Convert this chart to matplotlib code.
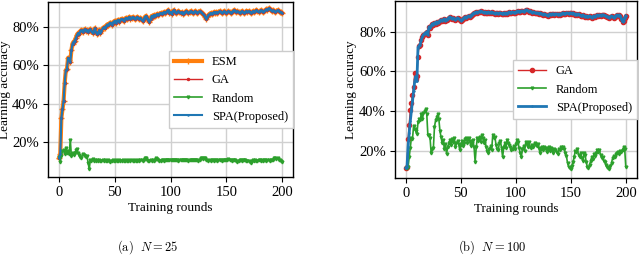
import matplotlib
matplotlib.use("Agg")
import matplotlib.pyplot as plt
from matplotlib.ticker import PercentFormatter
import numpy as np

plt.rcParams["font.family"] = ["Liberation Serif", "DejaVu Serif"]
plt.rcParams["mathtext.fontset"] = "cm"

# learning accuracy (%) per training round
esm_25 = [
    11.5, 13.5, 32.5, 37.0, 41.5, 51.0, 57.5, 58.0, 64.0, 63.0,
    62.0, 68.0, 71.5, 72.5, 73.0, 74.5, 76.0, 77.0, 76.5, 78.0,
    78.5, 77.5, 78.5, 79.0, 78.0, 78.5, 77.5, 78.5, 79.0, 78.0,
    77.0, 78.0, 79.5, 77.5, 76.5, 77.0, 78.5, 77.0, 78.0, 79.5,
    80.0, 79.5, 80.5, 81.5, 81.0, 82.0, 82.5, 81.5, 82.5, 83.0,
    83.5, 82.5, 83.5, 84.0, 83.0, 84.0, 84.5, 84.0, 83.5, 84.5,
    85.0, 84.5, 85.0, 85.5, 84.5, 85.0, 85.5, 85.0, 84.5, 85.0,
    85.5, 85.0, 84.5, 85.0, 84.0, 83.5, 84.5, 85.5, 86.0, 85.0,
    84.0, 83.0, 84.5, 86.0, 85.5, 86.5, 86.0, 86.5, 87.0, 86.5,
    87.0, 87.5, 87.0, 87.5, 88.0, 87.5, 88.0, 88.5, 89.0, 87.5,
    88.0, 87.0, 88.5, 89.0, 88.0, 87.5, 88.0, 88.5, 88.0, 87.5,
    88.0, 87.0, 87.5, 88.0, 88.5, 88.0, 87.5, 88.0, 88.5, 88.0,
    87.5, 88.0, 88.5, 88.0, 87.5, 88.0, 88.5, 88.0, 87.5, 87.0,
    86.5, 85.5, 84.5, 85.5, 86.5, 87.0, 87.5, 87.0, 87.5, 88.0,
    87.5, 88.0, 87.5, 88.0, 88.5, 88.0, 87.5, 88.0, 88.5, 88.0,
    87.5, 88.0, 88.5, 88.0, 87.5, 88.0, 88.5, 89.0, 88.5, 88.0,
    88.5, 88.0, 87.5, 88.0, 88.5, 88.0, 87.5, 88.0, 88.5, 88.0,
    88.5, 88.0, 87.5, 88.0, 88.5, 88.0, 88.5, 89.0, 88.5, 88.0,
    88.5, 89.0, 88.5, 88.0, 88.5, 89.0, 89.5, 89.0, 90.0, 89.5,
    89.0, 88.5, 89.0, 88.5, 88.0, 88.5, 89.0, 88.5, 88.0, 88.0,
    87.5,
]
ga_25 = esm_25    # the three curves overlap in panel (a)
spa_25 = esm_25

rand_25 = [
    12.0, 9.5, 12.5, 15.0, 15.5, 13.5, 16.5, 14.0, 15.0, 13.5,
    21.0, 12.5, 14.0, 13.0, 14.0, 15.5, 16.0, 14.0, 13.0, 12.0,
    11.5, 13.5, 13.0, 12.5, 12.0, 12.5, 9.0, 5.5, 10.5, 10.0,
    11.0, 10.0, 10.5, 10.0, 10.5, 10.0, 10.5, 10.0, 10.0, 10.5,
    10.0, 10.5, 10.0, 10.0, 10.5, 10.0, 9.5, 10.0, 10.5, 10.0,
    10.0, 10.5, 10.0, 10.0, 10.5, 10.0, 10.0, 10.5, 10.0, 10.0,
    10.5, 10.0, 10.0, 10.5, 10.0, 10.5, 10.0, 10.0, 10.5, 10.0,
    10.0, 10.5, 10.0, 10.5, 10.5, 10.0, 10.5, 11.5, 11.5, 10.5,
    10.0, 10.0, 10.5, 10.0, 10.5, 10.0, 10.5, 11.5, 11.0, 10.5,
    10.0, 10.0, 10.5, 10.5, 10.0, 10.5, 10.5, 10.5, 10.5, 10.5,
    10.5, 10.5, 10.5, 10.5, 10.5, 10.5, 10.5, 10.0, 10.5, 10.5,
    10.5, 10.5, 10.5, 10.5, 10.5, 10.5, 10.0, 10.5, 10.5, 10.5,
    10.5, 10.5, 10.5, 10.5, 10.5, 10.0, 10.5, 11.5, 11.5, 11.0,
    11.5, 11.5, 10.5, 10.5, 10.0, 10.5, 10.0, 10.5, 10.5, 10.0,
    10.5, 10.5, 10.0, 10.5, 10.5, 10.5, 10.0, 10.5, 10.5, 10.5,
    10.5, 10.5, 11.0, 10.5, 10.5, 10.0, 10.5, 10.5, 10.5, 10.0,
    9.5, 10.0, 10.5, 10.5, 10.0, 10.5, 10.5, 10.5, 10.0, 10.0,
    10.0, 9.5, 9.0, 10.0, 10.5, 10.0, 10.5, 10.0, 10.0, 10.5,
    10.5, 10.0, 10.5, 10.0, 10.5, 10.5, 10.0, 10.5, 10.5, 10.0,
    10.5, 10.5, 10.5, 11.5, 11.5, 11.0, 11.5, 10.5, 10.5, 10.0,
    9.5,
]

ga_100 = [
    11.5, 12.0, 26.0, 33.0, 40.5, 44.0, 48.0, 52.0, 59.0, 56.0,
    57.5, 67.5, 73.0, 73.5, 76.0, 77.5, 78.5, 79.0, 79.5, 80.0,
    78.5, 82.5, 82.0, 83.0, 84.0, 83.5, 84.5, 84.0, 85.0, 84.5,
    85.0, 85.5, 86.0, 85.5, 86.0, 86.5, 85.5, 86.0, 86.5, 87.0,
    87.5, 87.0, 86.5, 87.0, 86.5, 86.0, 86.5, 87.0, 86.5, 86.0,
    85.5, 86.0, 86.5, 87.0, 87.5, 87.0, 87.5, 88.0, 87.5, 88.0,
    88.5, 89.0, 89.5, 89.5, 90.0, 89.5, 90.0, 90.0, 90.5, 90.0,
    90.0, 89.5, 90.0, 89.5, 89.5, 90.0, 89.5, 89.5, 90.0, 89.5,
    89.5, 89.0, 89.5, 89.5, 89.0, 89.5, 89.5, 89.0, 89.0, 89.5,
    89.0, 89.5, 89.0, 89.5, 90.0, 89.5, 89.5, 90.0, 89.5, 89.5,
    90.0, 90.0, 90.5, 90.0, 90.0, 90.5, 90.5, 90.0, 90.5, 91.0,
    91.0, 90.5, 90.0, 90.5, 90.0, 89.5, 90.0, 89.5, 89.5, 89.5,
    89.5, 89.0, 89.5, 89.0, 89.0, 88.5, 89.0, 88.5, 88.5, 88.0,
    88.5, 89.0, 88.5, 89.0, 89.0, 88.5, 89.0, 89.0, 88.5, 89.0,
    88.5, 89.0, 89.0, 89.5, 89.0, 89.0, 89.5, 89.5, 89.0, 89.5,
    89.5, 89.0, 89.5, 89.0, 88.5, 89.0, 88.5, 89.0, 88.5, 88.0,
    88.0, 88.5, 88.0, 87.5, 88.0, 87.5, 87.5, 88.0, 87.5, 87.0,
    87.5, 88.0, 87.5, 88.0, 88.5, 88.0, 88.5, 88.0, 88.5, 88.5,
    88.5, 88.0, 88.0, 87.5, 87.5, 87.0, 87.5, 88.0, 87.5, 87.0,
    87.5, 88.0, 88.5, 88.0, 88.5, 88.0, 86.5, 85.0, 85.5, 87.0,
    88.0,
]
spa_100_start = [11.5, 12.0, 22.0, 29.0, 35.0, 40.0, 45.0, 50.0, 55.0, 57.5, 55.0, 72.0]
spa_100 = spa_100_start + ga_100[len(spa_100_start):]

rand_100 = [
    11.5, 11.5, 12.0, 17.0, 21.5, 26.5, 26.0, 32.5, 31.0, 30.0,
    28.5, 34.5, 36.0, 35.5, 38.5, 36.0, 39.0, 40.0, 41.0, 38.5,
    28.0, 28.0, 26.5, 19.0, 21.0, 21.5, 32.0, 35.5, 37.0, 38.5,
    36.0, 30.0, 27.0, 24.0, 25.5, 21.0, 23.5, 18.5, 22.0, 24.0,
    25.5, 23.0, 26.0, 24.5, 26.5, 22.0, 24.0, 25.0, 23.5, 20.5,
    23.0, 25.0, 22.5, 24.0, 26.0, 26.5, 24.0, 26.5, 25.0, 22.5,
    24.0, 25.5, 22.0, 14.5, 22.0, 26.5, 25.0, 27.0, 24.5, 28.0,
    26.5, 24.0, 25.5, 22.0, 20.0, 19.0, 21.0, 22.5, 20.5, 28.0,
    26.5, 27.0, 23.0, 21.0, 20.5, 24.0, 25.0, 21.5, 17.0, 22.0,
    24.0, 21.5, 25.5, 24.0, 23.0, 22.0, 20.5, 21.0, 22.5, 21.0,
    23.5, 25.5, 24.5, 21.5, 19.0, 17.0, 21.0, 22.5, 20.0, 24.5,
    23.5, 22.0, 24.5, 22.0, 21.5, 23.0, 22.0, 24.0, 23.0, 22.5,
    23.5, 21.5, 19.0, 21.0, 22.0, 20.5, 22.0, 21.5, 19.5, 21.0,
    22.0, 20.0, 21.5, 20.5, 19.0, 21.0, 20.5, 19.5, 18.5, 21.0,
    20.5, 22.0, 21.5, 22.0, 21.0, 19.0, 17.5, 14.0, 12.0, 11.5,
    11.0, 12.5, 14.5, 17.0, 20.0, 19.5, 21.0, 18.0, 17.0, 19.0,
    16.5, 15.0, 19.0, 18.0, 14.5, 12.0, 11.5, 13.0, 15.0, 17.0,
    16.0, 18.5, 17.5, 19.0, 20.5, 19.5, 20.5, 18.0, 16.5, 17.0,
    15.0, 14.5, 13.0, 12.0, 11.5, 11.0, 12.5, 14.0, 16.5, 17.5,
    17.0, 18.5, 19.0, 19.5, 18.5, 20.0, 19.5, 20.5, 22.0, 21.0,
    12.0,
]

ORANGE, RED, GREEN, BLUE = "#ff7f0e", "#d62728", "#2ca02c", "#1f77b4"


def style_axes(ax, ylim, ylabel_x):
    ax.set_xlim(-10, 210)
    ax.set_ylim(*ylim)
    ax.set_xticks([0, 50, 100, 150, 200])
    ax.set_yticks([20, 40, 60, 80])
    ax.yaxis.set_major_formatter(PercentFormatter(decimals=0))
    ax.grid(True, color="#d0d0d0", lw=1.0)
    ax.set_axisbelow(True)
    ax.tick_params(labelsize=10.5, length=3.5, width=0.8, pad=3)
    ax.set_xlabel("Training rounds", fontsize=9.5, labelpad=2)
    ax.set_ylabel("Learning accuracy", fontsize=9.5)
    ax.yaxis.set_label_coords(ylabel_x, 0.5)
    for s in ax.spines.values():
        s.set_linewidth(1.0)


fig = plt.figure(figsize=(6.4, 2.56), dpi=100)
ax1 = fig.add_axes([0.075, 0.309, 0.383, 0.683])
ax2 = fig.add_axes([0.617, 0.305, 0.378, 0.690])

x = np.arange(len(esm_25))
ax1.plot(x, esm_25, color=ORANGE, lw=3, marker="+", ms=5, mew=1, label="ESM")
ax1.plot(x, ga_25, color=RED, lw=1, marker=".", ms=3, label="GA")
ax1.plot(x, rand_25, color=GREEN, lw=1.2, marker="v", ms=2, label="Random")
ax1.plot(x, spa_25, color=BLUE, lw=1.5, marker=".", ms=1.5, label="SPA(Proposed)")
style_axes(ax1, (1.5, 93.3), -0.15)
ax1.legend(loc="center right", fontsize=9, borderaxespad=0, framealpha=1,
           edgecolor="#cccccc", fancybox=False, handlelength=2.2)

x = np.arange(len(ga_100))
ax2.plot(x, ga_100, color=RED, lw=1, marker="o", ms=3, label="GA")
ax2.plot(x, rand_100, color=GREEN, lw=1.2, marker="v", ms=2, label="Random")
ax2.plot(x, spa_100, color=BLUE, lw=2, marker=".", ms=1.5, label="SPA(Proposed)")
style_axes(ax2, (6.5, 95.3), -0.155)
ax2.legend(loc="center right", fontsize=9, borderaxespad=0, framealpha=1,
           edgecolor="#cccccc", fancybox=False, handlelength=2.2)

fig.text(0.23, 0.02, r"$\mathrm{(a)}\ \ N = 25$", ha="center", va="baseline", fontsize=9)
fig.text(0.769, 0.02, r"$\mathrm{(b)}\ \ N = 100$", ha="center", va="baseline", fontsize=9)

fig.savefig("out.png", dpi=100)
